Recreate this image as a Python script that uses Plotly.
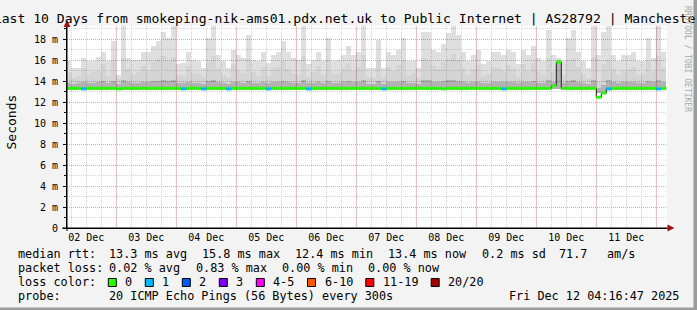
import plotly.graph_objects as go
import pandas as pd

# ---------------- data ----------------
col_start = "2025-12-02 04:00:00"   # first 2-hour consolidation column
range_start = "2025-12-02 04:16:47"
range_end = "2025-12-12 04:16:47"

smoke_max = [
    15.9, 15.2, 15.2, 16.2, 15.9, 15.9, 16.3, 16.8, 15.9, 17.8, 14.6, 19.5, 16.2, 16.0, 16.0, 16.8, 16.8, 17.3, 17.8, 18.7,
    18.1, 19.5, 15.6, 15.7, 16.8, 16.0, 15.9, 15.2, 18.1, 19.5, 16.5, 15.9, 15.2, 17.0, 16.5, 16.2, 18.4, 16.0, 15.9, 16.8,
    15.7, 16.5, 16.8, 17.8, 16.8, 16.2, 16.0, 19.5, 15.6, 16.0, 16.8, 15.9, 18.1, 15.9, 16.0, 16.5, 17.3, 16.5, 16.8, 19.5,
    15.2, 15.2, 17.9, 15.2, 16.8, 16.5, 17.0, 18.1, 15.9, 15.9, 15.2, 18.7, 18.7, 17.0, 16.8, 17.5, 18.6, 19.5, 18.4, 16.8,
    15.9, 16.5, 17.0, 15.6, 15.9, 16.8, 16.8, 16.5, 17.0, 16.8, 15.6, 17.0, 16.5, 17.3, 16.2, 15.9, 18.9, 16.5, 16.2, 15.9,
    18.1, 18.9, 16.8, 15.9, 15.2, 19.5, 16.5, 18.7, 19.5, 16.5, 15.9, 16.5, 16.5, 16.8, 15.9, 15.9, 18.1, 16.2, 19.5, 16.8,
]
smoke_mid = [
    14.8, 14.3, 14.5, 15.2, 14.6, 14.9, 15.0, 15.6, 14.5, 16.0, 14.2, 16.2, 15.1, 14.6, 14.9, 15.4, 15.0, 15.8, 16.1, 16.4,
    15.9, 16.3, 14.6, 14.5, 15.4, 14.8, 14.7, 14.4, 15.8, 16.4, 15.2, 14.6, 14.3, 15.6, 15.0, 14.8, 16.1, 14.9, 14.5, 15.3,
    14.5, 15.2, 15.3, 15.9, 15.1, 14.8, 14.6, 16.4, 14.4, 14.9, 15.4, 14.6, 16.0, 14.7, 14.8, 15.2, 15.7, 15.0, 15.3, 16.5,
    14.4, 14.3, 15.9, 14.4, 15.3, 15.0, 15.5, 16.0, 14.6, 14.8, 14.3, 16.2, 16.0, 15.4, 15.1, 15.8, 16.1, 16.6, 16.0, 15.2,
    14.6, 15.1, 15.5, 14.5, 14.7, 15.3, 15.2, 15.0, 15.5, 15.1, 14.4, 15.6, 15.0, 15.7, 14.9, 14.6, 16.2, 15.0, 16.1, 14.6,
    16.0, 16.1, 15.3, 14.7, 14.3, 16.3, 13.9, 15.6, 16.0, 15.1, 14.6, 15.0, 15.1, 15.3, 14.6, 14.7, 15.9, 14.9, 16.4, 15.2,
]
smoke_low = [
    13.8, 13.7, 13.8, 13.9, 13.8, 13.8, 13.9, 14.0, 13.8, 14.0, 13.7, 14.1, 13.9, 13.8, 13.8, 13.9, 13.9, 14.0, 14.0, 14.1,
    14.0, 14.1, 13.8, 13.8, 13.9, 13.8, 13.8, 13.7, 14.0, 14.1, 13.9, 13.8, 13.7, 13.9, 13.9, 13.8, 14.0, 13.8, 13.8, 13.9,
    13.8, 13.9, 13.9, 14.0, 13.9, 13.8, 13.8, 14.1, 13.8, 13.8, 13.9, 13.8, 14.0, 13.8, 13.8, 13.9, 14.0, 13.9, 13.9, 14.1,
    13.7, 13.7, 14.0, 13.7, 13.9, 13.9, 13.9, 14.0, 13.8, 13.8, 13.7, 14.1, 14.1, 13.9, 13.9, 14.0, 14.1, 14.1, 14.0, 13.9,
    13.8, 13.9, 13.9, 13.8, 13.8, 13.9, 13.9, 13.9, 13.9, 13.9, 13.8, 13.9, 13.9, 14.0, 13.8, 13.8, 14.1, 13.9, 15.9, 13.8,
    14.0, 14.1, 13.9, 13.8, 13.7, 14.1, 13.3, 13.6, 14.1, 13.9, 13.8, 13.9, 13.9, 13.9, 13.8, 13.8, 14.0, 13.9, 14.1, 13.9,
]
smoke_min = [
    13.15, 13.15, 13.15, 13.15, 13.15, 13.15, 13.15, 13.15, 13.15, 13.15, 13.15, 13.15, 13.15, 13.15, 13.15, 13.15, 13.15, 13.15, 13.15, 13.15,
    13.15, 13.15, 13.15, 13.15, 13.15, 13.15, 13.15, 13.15, 13.15, 13.15, 13.15, 13.15, 13.15, 13.15, 13.15, 13.15, 13.15, 13.15, 13.15, 13.15,
    13.15, 13.15, 13.15, 13.15, 13.15, 13.15, 13.15, 13.15, 13.15, 13.15, 13.15, 13.15, 13.15, 13.15, 13.15, 13.15, 13.15, 13.15, 13.15, 13.15,
    13.15, 13.15, 13.15, 13.15, 13.15, 13.15, 13.15, 13.15, 13.15, 13.15, 13.15, 13.15, 13.15, 13.15, 13.15, 13.15, 13.15, 13.15, 13.15, 13.15,
    13.15, 13.15, 13.15, 13.15, 13.15, 13.15, 13.15, 13.15, 13.15, 13.15, 13.15, 13.15, 13.15, 13.15, 13.15, 13.15, 13.15, 13.2, 13.2, 13.15,
    13.15, 13.15, 13.15, 13.15, 13.15, 13.15, 12.9, 13.0, 13.15, 13.15, 13.15, 13.15, 13.15, 13.15, 13.15, 13.15, 13.15, 13.15, 13.15, 13.15,
]
median = [
    13.3, 13.3, 13.3, 13.25, 13.3, 13.3, 13.3, 13.3, 13.3, 13.3, 13.25, 13.3, 13.3, 13.3, 13.3, 13.3, 13.3, 13.3, 13.3, 13.3,
    13.3, 13.3, 13.3, 13.25, 13.3, 13.3, 13.3, 13.25, 13.3, 13.3, 13.3, 13.3, 13.25, 13.3, 13.3, 13.3, 13.3, 13.3, 13.3, 13.3,
    13.25, 13.3, 13.3, 13.3, 13.3, 13.3, 13.3, 13.3, 13.25, 13.3, 13.3, 13.3, 13.3, 13.3, 13.3, 13.3, 13.3, 13.3, 13.3, 13.3,
    13.3, 13.3, 13.3, 13.25, 13.3, 13.3, 13.3, 13.3, 13.3, 13.3, 13.3, 13.3, 13.3, 13.3, 13.3, 13.25, 13.3, 13.3, 13.3, 13.3,
    13.3, 13.3, 13.3, 13.3, 13.3, 13.3, 13.3, 13.25, 13.3, 13.3, 13.3, 13.3, 13.3, 13.3, 13.3, 13.3, 13.3, 13.55, 15.8, 13.3,
    13.3, 13.3, 13.3, 13.3, 13.3, 13.3, 12.45, 12.85, 13.25, 13.3, 13.3, 13.3, 13.3, 13.3, 13.3, 13.3, 13.3, 13.3, 13.25, 13.3,
]
loss = [
    0, 0, 0, 1, 0, 0, 0, 0, 0, 0, 0, 0, 0, 0, 0, 0, 0, 0, 0, 0,
    0, 0, 0, 1, 0, 0, 0, 1, 0, 0, 0, 0, 1, 0, 0, 0, 0, 0, 0, 0,
    1, 0, 0, 0, 0, 0, 0, 0, 1, 0, 0, 0, 0, 0, 0, 0, 0, 0, 0, 0,
    0, 0, 0, 1, 0, 0, 0, 0, 0, 0, 0, 0, 0, 0, 0, 0, 0, 0, 0, 0,
    0, 0, 0, 0, 0, 0, 0, 1, 0, 0, 0, 0, 0, 0, 0, 0, 0, 0, 0, 0,
    0, 0, 0, 0, 0, 0, 0, 0, 1, 0, 0, 0, 0, 0, 0, 0, 0, 0, 1, 0,
]

day_labels = ["02 Dec", "03 Dec", "04 Dec", "05 Dec", "06 Dec", "07 Dec", "08 Dec", "09 Dec", "10 Dec", "11 Dec"]
label_days = ["2025-12-02", "2025-12-03", "2025-12-04", "2025-12-05", "2025-12-06",
              "2025-12-07", "2025-12-08", "2025-12-09", "2025-12-10", "2025-12-11"]
midnights = ["2025-12-03", "2025-12-04", "2025-12-05", "2025-12-06", "2025-12-07",
             "2025-12-08", "2025-12-09", "2025-12-10", "2025-12-11", "2025-12-12"]
y_ticks = [0, 2, 4, 6, 8, 10, 12, 14, 16, 18]
y_tick_labels = ["0", "2 m", "4 m", "6 m", "8 m", "10 m", "12 m", "14 m", "16 m", "18 m"]

loss_labels = ["0", "1", "2", "3", "4-5", "6-10", "11-19", "20/20"]
loss_colors = ["#26ff00", "#00b8ff", "#0059ff", "#7e00ff", "#ff00ff", "#ff5500", "#ff0000", "#a10000"]

title_text = "Last 10 Days from smokeping-nik-ams01.pdx.net.uk to Public Internet | AS28792 | Manchester"
rtt_caption = "median rtt:"
rtt_items = ["13.3 ms avg", "15.8 ms max", "12.4 ms min", "13.4 ms now", "0.2 ms sd", "71.7", "am/s"]
loss_caption_2 = "packet loss:"
loss_items = ["0.02 % avg", "0.83 % max", "0.00 % min", "0.00 % now"]
loss_caption = "loss color:"
probe_caption = "probe:"
probe_text = "20 ICMP Echo Pings (56 Bytes) every 300s"
stamp_text = "Fri Dec 12 04:16:47 2025"
side_text = "RRDTOOL / TOBI OETIKER"

# ---------------- layout geometry (pixels) ----------------
W, H = 697, 310
PL, PR, PT, PB = 67, 667, 26, 228
MONO = "DejaVu Sans Mono"
CW = 7.1   # legend character advance
rtt_x = [107, 200, 293, 386, 480, 556.5, 605]
loss_x = [107, 194, 279.5, 366]


def px(x):
    return (x - PL) / (PR - PL)


def py(y):
    return (PB - y) / (PB - PT)


def nb(s):
    return s.replace(" ", "\u00a0")


n = len(median)
starts = pd.date_range(col_start, periods=n, freq="2h")
ends = starts + pd.Timedelta(hours=2)
centers = starts + pd.Timedelta(hours=1)
bar_w = 2 * 3600 * 1000

fig = go.Figure()

# smoke layers (translucent so the grid shows through, as in rrdtool)
fig.add_trace(go.Bar(x=centers, base=smoke_mid, y=[a - b for a, b in zip(smoke_max, smoke_mid)],
                     width=bar_w, marker=dict(color="rgba(0,0,0,0.125)", line=dict(width=0)),
                     hoverinfo="skip", showlegend=False))
fig.add_trace(go.Bar(x=centers, base=smoke_low, y=[a - b for a, b in zip(smoke_mid, smoke_low)],
                     width=bar_w, marker=dict(color="rgba(0,0,0,0.17)", line=dict(width=0)),
                     hoverinfo="skip", showlegend=False))
fig.add_trace(go.Bar(x=centers, base=smoke_min, y=[a - b for a, b in zip(smoke_low, smoke_min)],
                     width=bar_w, marker=dict(color="rgba(0,0,0,0.30)", line=dict(width=0)),
                     hoverinfo="skip", showlegend=False))

# thin dark median line (visible at the jumps)
fig.add_trace(go.Scatter(x=list(starts) + [ends[-1]],
                         y=median + [median[-1]], mode="lines",
                         line=dict(color="#202020", width=1, shape="hv"),
                         hoverinfo="skip", showlegend=False))

# median band coloured by packet loss: one horizontal segment per column
for k, col in enumerate(loss_colors):
    xs, ys = [], []
    for s, e, m, l in zip(starts, ends, median, loss):
        if l == k:
            xs += [s, e, None]
            ys += [m, m, None]
    if xs:
        fig.add_trace(go.Scatter(x=xs, y=ys, mode="lines", line=dict(color=col, width=3),
                                 hoverinfo="skip", showlegend=False, connectgaps=False))

fig.update_layout(
    width=W, height=H,
    margin=dict(l=PL, r=W - PR, t=PT, b=H - PB, pad=0),
    paper_bgcolor="#f3f3f3", plot_bgcolor="#ffffff",
    barmode="overlay", bargap=0,
    showlegend=False,
    font=dict(family=MONO, size=10, color="#000000"),
    title=dict(text=nb(title_text), xref="container", yref="container", x=0.5, xanchor="center",
               y=1 - 18.5 / H, yanchor="middle", font=dict(family=MONO, size=13.1, color="#000000")),
)

fig.update_xaxes(
    type="date", range=[range_start, range_end],
    tickmode="array", tickvals=[d + " 12:00" for d in label_days], ticktext=day_labels,
    tickfont=dict(family=MONO, size=10, color="#000000"),
    showgrid=True, gridcolor="#d4d4d4", griddash="1px,1px", gridwidth=1,
    minor=dict(tickmode="linear", tick0="2025-12-02 00:00", dtick=6 * 3600 * 1000,
               showgrid=True, gridcolor="#d4d4d4", griddash="1px,1px", gridwidth=1, ticks=""),
    ticks="", showline=True, linecolor="#000000", linewidth=1,
    zeroline=False, fixedrange=True,
)
fig.update_yaxes(
    range=[0, (PB - PT) / 10.5],
    tickmode="array", tickvals=y_ticks, ticktext=y_tick_labels,
    tickfont=dict(family=MONO, size=10, color="#000000"),
    showgrid=True, gridcolor="#f2a0a0", griddash="1px,1px", gridwidth=1,
    minor=dict(tickmode="linear", tick0=0, dtick=1, showgrid=True, gridcolor="#d4d4d4",
               griddash="1px,1px", gridwidth=1, ticks="outside", ticklen=2, tickcolor="#000000"),
    ticks="outside", ticklen=3, tickcolor="#000000", ticklabelstandoff=3,
    showline=True, linecolor="#000000", linewidth=1,
    zeroline=False, fixedrange=True,
)

shapes = []
# major (midnight) vertical grid
for m in midnights:
    shapes.append(dict(type="line", xref="x", yref="paper", x0=m, x1=m, y0=0, y1=1,
                       line=dict(color="#f2a0a0", width=1, dash="1px,1px"), layer="below"))
# axis extensions and arrows
shapes.append(dict(type="line", xref="paper", yref="paper", x0=px(62), x1=px(669), y0=py(228), y1=py(228),
                   line=dict(color="#000000", width=1)))
shapes.append(dict(type="line", xref="paper", yref="paper", x0=px(67), x1=px(67), y0=py(231), y1=py(22),
                   line=dict(color="#000000", width=1)))
shapes.append(dict(type="path", xref="paper", yref="paper",
                   path=f"M {px(667.5)},{py(224.5)} L {px(674.5)},{py(228)} L {px(667.5)},{py(231.5)} Z",
                   fillcolor="#a01010", line=dict(width=0)))
shapes.append(dict(type="path", xref="paper", yref="paper",
                   path=f"M {px(63.5)},{py(27)} L {px(67)},{py(20)} L {px(70.5)},{py(27)} Z",
                   fillcolor="#a01010", line=dict(width=0)))
# frame shading
shapes.append(dict(type="rect", xref="paper", yref="paper", x0=px(693.5), x1=px(697), y0=py(0), y1=py(310),
                   fillcolor="#9c9c9c", line=dict(width=0)))
shapes.append(dict(type="rect", xref="paper", yref="paper", x0=px(0), x1=px(697), y0=py(307.5), y1=py(310),
                   fillcolor="#9c9c9c", line=dict(width=0)))

annotations = []
annotations.append(dict(xref="paper", yref="paper", x=px(10.5), y=py(122), xanchor="center", yanchor="middle",
                        text="Seconds", textangle=-90, showarrow=False,
                        font=dict(family=MONO, size=13, color="#000000")))
annotations.append(dict(xref="paper", yref="paper", x=px(688), y=py(59), xanchor="center", yanchor="middle",
                        text=nb(side_text), textangle=90, showarrow=False,
                        font=dict(family=MONO, size=8, color="#a8a8a8")))

LF = 11.8
X0 = 16
line_y = [254.5, 268, 282, 295.5]


def legend_text(x, y, s, anchor="left"):
    annotations.append(dict(xref="paper", yref="paper", x=px(x), y=py(y), xanchor=anchor, yanchor="middle",
                            text=nb(s), showarrow=False, font=dict(family=MONO, size=LF, color="#000000")))


legend_text(X0, line_y[0], rtt_caption)
for xx, s in zip(rtt_x, rtt_items):
    legend_text(xx, line_y[0], s)
legend_text(X0, line_y[1], loss_caption_2)
for xx, s in zip(loss_x, loss_items):
    legend_text(xx, line_y[1], s)
legend_text(X0, line_y[2], loss_caption)
legend_text(X0, line_y[3], probe_caption)
legend_text(107, line_y[3], probe_text)
legend_text(680.5, line_y[3], stamp_text, anchor="right")

bx = 108.3
for lab, col in zip(loss_labels, loss_colors):
    shapes.append(dict(type="rect", xref="paper", yref="paper", x0=px(bx), x1=px(bx + 8), y0=py(286.5), y1=py(278.5),
                       fillcolor=col, line=dict(color="#000000", width=1)))
    legend_text(bx + 15, line_y[2], lab)
    bx += 29.9 + CW * len(lab)

fig.update_layout(shapes=shapes, annotations=annotations)
fig.write_html("out.html")
